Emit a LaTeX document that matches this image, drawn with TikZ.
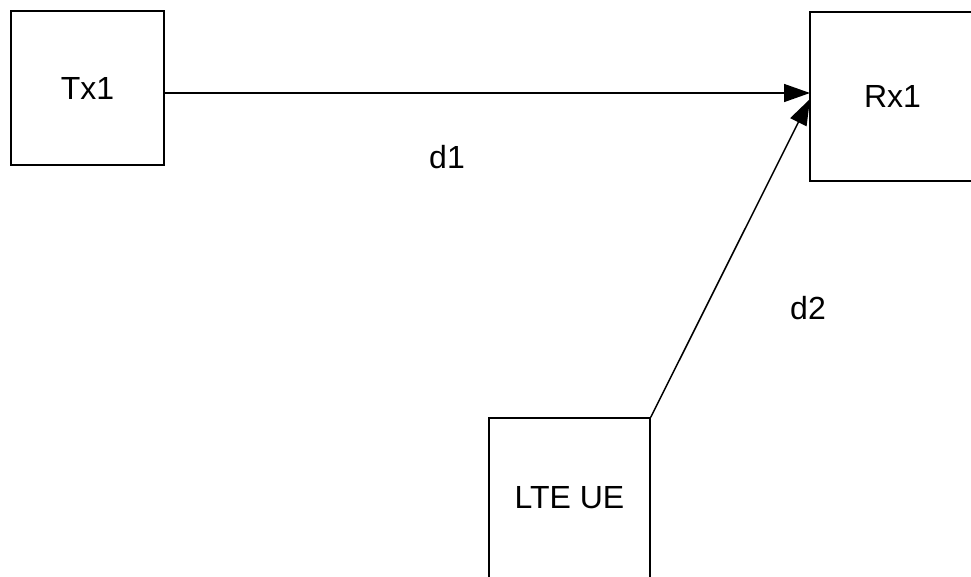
\documentclass[tikz,border=0pt]{standalone}
\usepackage{fontspec}
\setmainfont{Liberation Sans}
\usetikzlibrary{arrows.meta}
\begin{document}
\begin{tikzpicture}[x=1pt,y=-1pt,
  box/.style={draw,line width=1.5pt,rectangle,inner sep=0pt,font=\fontsize{32}{38}\selectfont},
  arr/.style={line width=1.5pt,-{Triangle[length=26pt,width=18pt]}},
  lbl/.style={font=\fontsize{32}{38}\selectfont}]
\useasboundingbox (0,0) rectangle (971,576);
\clip (0,0) rectangle (971,576);
\node[box,minimum width=153pt,minimum height=154pt] (tx) at (87.5,88) {Tx1};
\node[box,minimum width=165pt,minimum height=169pt] (rx) at (892.5,96.5) {Rx1};
\node[box,minimum width=161pt,minimum height=160pt] (ue) at (569.5,498) {LTE UE};
\coordinate (p) at (810,93);
\draw[arr] (tx.east |- p) -- (p);
\draw[arr] (ue.north east) -- (810,99);
\node[lbl] (d1) at (447,157) {d1};
\node[lbl] (d2) at (808,308) {d2};
\end{tikzpicture}
\end{document}
